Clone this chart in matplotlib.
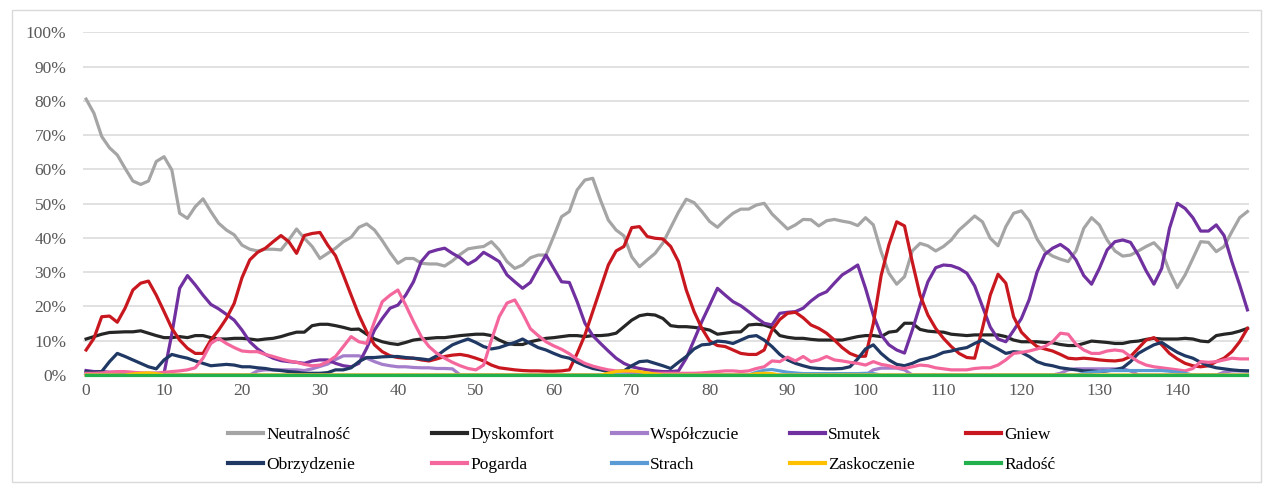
import matplotlib
matplotlib.use("Agg")
import matplotlib.pyplot as plt
from matplotlib.ticker import PercentFormatter, MultipleLocator
from matplotlib.lines import Line2D
from matplotlib.patches import Rectangle

# values in percent, frames 0..149
neutralnosc = [
    80.5, 76.4, 69.6, 66.3, 64.2, 60.3, 56.6, 55.6, 56.6, 62.3,
    63.7, 59.8, 47.2, 45.7, 49.1, 51.4, 47.7, 44.3, 42.3, 40.9,
    37.9, 36.7, 36.2, 36.7, 36.7, 36.5, 39.4, 42.6, 39.9, 37.5,
    34.0, 35.5, 37.0, 38.9, 40.2, 43.1, 44.1, 42.3, 39.2, 35.7,
    32.6, 34.0, 34.0, 32.6, 32.4, 32.4, 31.8, 33.3, 35.2, 36.8,
    37.2, 37.5, 38.9, 36.5, 33.1, 31.1, 32.1, 34.2, 35.0, 35.0,
    40.5, 46.2, 47.7, 54.0, 56.9, 57.4, 51.0, 45.2, 42.3, 40.6,
    34.5, 31.6, 33.6, 35.5, 38.5, 43.0, 47.5, 51.3, 50.3, 47.7,
    44.8, 43.1, 45.3, 47.2, 48.4, 48.4, 49.6, 50.1, 47.0, 44.8,
    42.6, 43.8, 45.4, 45.3, 43.5, 45.0, 45.4, 44.9, 44.5, 43.6,
    45.9, 43.8, 36.0, 29.7, 26.5, 28.7, 36.2, 38.4, 37.7, 36.2,
    37.5, 39.4, 42.3, 44.3, 46.4, 44.7, 39.9, 37.7, 43.3, 47.2,
    47.9, 45.0, 39.7, 36.2, 34.7, 33.8, 33.1, 36.2, 42.8, 45.9,
    43.8, 39.4, 36.2, 34.7, 35.0, 36.2, 37.5, 38.6, 36.2, 30.2,
    25.5, 29.2, 34.0, 38.9, 38.7, 36.0, 37.5, 41.8, 45.9, 47.7,
]
dyskomfort = [
    10.5, 11.2, 11.9, 12.4, 12.5, 12.6, 12.6, 12.9, 12.2, 11.5,
    10.9, 10.9, 11.2, 10.9, 11.5, 11.5, 10.9, 10.5, 10.5, 10.7,
    10.7, 10.5, 10.2, 10.5, 10.7, 11.2, 11.9, 12.5, 12.5, 14.4,
    14.8, 14.8, 14.4, 13.9, 13.3, 13.4, 11.9, 10.5, 9.7, 9.2,
    8.9, 9.5, 10.2, 10.5, 10.7, 10.9, 10.9, 11.2, 11.5, 11.7,
    11.9, 11.9, 11.5, 10.2, 9.2, 8.9, 8.9, 9.7, 10.2, 10.7,
    10.9, 11.2, 11.5, 11.5, 11.2, 11.5, 11.5, 11.7, 12.2, 14.1,
    16.0, 17.3, 17.7, 17.5, 16.5, 14.4, 14.1, 14.1, 13.9, 13.6,
    13.1, 11.9, 12.2, 12.5, 12.6, 14.6, 14.8, 14.6, 13.8, 11.5,
    11.0, 10.7, 10.7, 10.4, 10.2, 10.2, 10.2, 10.2, 10.7, 11.2,
    11.5, 11.5, 11.2, 12.5, 12.8, 15.1, 15.1, 13.3, 12.8, 12.6,
    12.5, 11.9, 11.7, 11.5, 11.7, 11.7, 11.7, 11.7, 11.2, 10.2,
    9.7, 9.7, 9.7, 9.5, 9.4, 8.9, 8.6, 8.6, 9.2, 9.9,
    9.7, 9.5, 9.2, 9.2, 9.7, 9.9, 10.4, 10.7, 10.5, 10.5,
    10.5, 10.7, 10.5, 9.9, 9.7, 11.5, 11.9, 12.2, 12.8, 13.6,
]
wspolczucie = [
    0.0, 0.0, 0.0, 0.0, 0.0, 0.0, 0.0, 0.0, 0.0, 0.0,
    0.0, 0.0, 0.0, 0.0, 0.0, 0.0, 0.0, 0.0, 0.0, 0.0,
    0.0, 0.0, 1.2, 1.5, 1.5, 1.5, 1.5, 1.5, 1.3, 1.8,
    2.5, 3.2, 4.5, 5.6, 5.6, 5.6, 4.9, 3.9, 3.1, 2.7,
    2.4, 2.4, 2.2, 2.1, 2.1, 1.9, 1.9, 1.8, 0.0, 0.0,
    0.0, 0.0, 0.0, 0.0, 0.0, 0.0, 0.0, 0.0, 0.0, 0.0,
    0.0, 0.0, 0.0, 0.0, 0.0, 0.0, 0.0, 0.0, 0.0, 0.0,
    0.0, 0.0, 0.0, 0.0, 0.0, 0.0, 0.0, 0.0, 0.0, 0.0,
    0.0, 0.0, 0.0, 0.0, 0.0, 0.0, 0.0, 0.0, 0.0, 0.0,
    0.0, 0.0, 0.0, 0.0, 0.0, 0.0, 0.0, 0.0, 0.0, 0.0,
    0.0, 1.5, 2.0, 2.0, 2.0, 1.5, 0.0, 0.0, 0.0, 0.0,
    0.0, 0.0, 0.0, 0.0, 0.0, 0.0, 0.0, 0.0, 0.0, 0.0,
    0.0, 0.0, 0.0, 0.0, 0.0, 0.5, 1.5, 1.8, 1.8, 1.8,
    1.8, 1.8, 1.8, 1.8, 1.2, 0.0, 0.0, 0.0, 0.0, 0.0,
    0.0, 0.0, 0.0, 0.0, 0.0, 0.0, 0.8, 1.2, 1.2, 1.2,
]
smutek = [
    1.3, 1.0, 1.0, 0.8, 0.8, 0.7, 0.6, 0.5, 0.5, 0.5,
    0.5, 12.0, 25.3, 29.0, 26.3, 23.3, 20.6, 19.3, 17.7, 16.0,
    13.1, 9.7, 7.6, 6.0, 4.9, 4.2, 3.9, 3.7, 3.4, 4.1,
    4.4, 4.4, 3.4, 2.7, 2.4, 3.4, 7.8, 13.1, 16.5, 19.5,
    20.4, 23.3, 27.2, 33.1, 35.8, 36.5, 37.0, 35.5, 34.2, 32.3,
    33.6, 35.8, 34.5, 33.1, 29.2, 27.2, 25.3, 27.0, 31.1, 35.0,
    31.1, 27.2, 27.0, 21.4, 15.1, 11.5, 9.2, 7.0, 4.9, 3.4,
    2.4, 1.9, 1.5, 1.2, 1.0, 1.0, 1.2, 4.9, 10.2, 15.6,
    20.4, 25.3, 23.3, 21.4, 20.2, 18.5, 16.7, 15.1, 14.6, 18.0,
    18.3, 18.5, 19.5, 21.6, 23.3, 24.3, 26.8, 29.2, 30.6, 32.1,
    25.3, 17.5, 11.7, 8.8, 7.3, 6.4, 13.1, 20.4, 27.2, 31.3,
    32.1, 31.9, 31.1, 29.7, 26.0, 20.0, 14.0, 10.5, 9.7, 13.0,
    16.5, 22.0, 30.0, 35.2, 37.0, 38.1, 36.5, 33.6, 29.0, 26.5,
    31.1, 36.5, 38.9, 39.4, 38.7, 35.0, 30.4, 26.5, 31.1, 42.8,
    50.1, 48.6, 45.9, 42.0, 42.0, 43.8, 40.7, 33.1, 26.3, 19.0,
]
gniew = [
    7.3, 10.7, 17.0, 17.2, 15.4, 19.5, 24.8, 26.8, 27.4, 23.3,
    18.5, 13.6, 10.2, 7.8, 6.3, 6.3, 10.2, 13.1, 16.5, 20.9,
    28.4, 33.6, 35.8, 37.0, 38.9, 40.7, 38.9, 35.5, 40.7, 41.3,
    41.6, 37.9, 34.8, 29.2, 23.3, 17.5, 12.6, 8.8, 6.8, 5.6,
    5.1, 4.9, 4.9, 4.4, 4.1, 4.7, 5.4, 5.8, 6.0, 5.6,
    4.9, 4.1, 2.9, 2.1, 1.8, 1.5, 1.3, 1.2, 1.2, 1.1,
    1.1, 1.2, 1.5, 6.3, 11.7, 18.5, 25.3, 32.1, 36.2, 37.5,
    43.0, 43.3, 40.4, 39.9, 39.7, 37.5, 33.1, 24.8, 18.5, 13.6,
    9.9, 8.6, 8.3, 7.3, 6.3, 6.0, 6.0, 7.3, 13.1, 16.2,
    18.0, 18.3, 16.7, 14.6, 13.6, 12.2, 10.2, 8.0, 6.3, 5.4,
    5.5, 15.0, 29.0, 38.0, 44.7, 43.5, 33.0, 23.3, 17.5, 13.6,
    10.7, 8.3, 6.3, 5.1, 4.9, 13.6, 23.3, 29.4, 26.8, 17.0,
    12.5, 10.2, 8.3, 7.6, 7.0, 6.0, 4.9, 4.7, 4.9, 4.7,
    4.4, 4.2, 4.1, 4.4, 5.4, 7.8, 10.2, 10.9, 8.8, 6.3,
    4.7, 3.4, 2.7, 2.4, 2.7, 3.9, 4.9, 6.8, 9.7, 13.6,
]
obrzydzenie = [
    1.0, 0.8, 1.0, 3.9, 6.3, 5.4, 4.4, 3.4, 2.4, 1.8,
    4.4, 6.0, 5.4, 4.9, 4.1, 3.4, 2.7, 2.9, 3.1, 2.9,
    2.4, 2.4, 2.1, 1.9, 1.5, 1.3, 1.0, 0.8, 0.5, 0.5,
    0.5, 0.7, 1.5, 1.5, 2.1, 3.9, 5.1, 5.1, 5.3, 5.4,
    5.4, 5.1, 4.9, 4.7, 4.4, 5.6, 7.3, 8.8, 9.7, 10.5,
    9.5, 8.3, 7.6, 8.0, 8.8, 9.5, 10.5, 9.2, 8.0, 7.3,
    6.3, 5.4, 4.9, 3.7, 2.7, 1.9, 1.5, 1.0, 1.0, 1.2,
    2.7, 3.9, 4.1, 3.4, 2.7, 1.9, 3.7, 5.4, 7.6, 8.8,
    9.0, 9.9, 9.7, 9.2, 10.2, 11.2, 11.5, 10.2, 8.3, 6.0,
    4.4, 3.4, 2.7, 2.1, 1.9, 1.8, 1.8, 1.9, 2.4, 4.7,
    7.6, 8.8, 6.3, 4.4, 3.1, 2.7, 3.4, 4.4, 4.9, 5.6,
    6.6, 7.0, 7.6, 8.0, 9.2, 10.2, 8.8, 7.6, 6.3, 6.8,
    6.6, 5.4, 3.9, 3.1, 2.7, 2.1, 1.8, 1.5, 1.2, 1.2,
    1.0, 1.2, 1.5, 2.1, 3.9, 6.3, 7.6, 8.8, 9.5, 8.0,
    6.6, 5.6, 4.9, 3.7, 2.7, 2.1, 1.8, 1.5, 1.3, 1.2,
]
pogarda = [
    0.5, 0.5, 0.6, 0.8, 1.0, 1.0, 0.8, 0.6, 0.5, 0.5,
    0.8, 1.0, 1.2, 1.5, 2.1, 4.9, 9.2, 10.7, 9.2, 8.0,
    7.0, 6.8, 6.8, 6.0, 5.4, 4.7, 4.1, 3.7, 3.1, 2.7,
    2.9, 3.9, 5.4, 8.3, 11.2, 9.7, 9.2, 15.6, 21.4, 23.3,
    24.8, 20.4, 15.6, 11.2, 8.3, 6.3, 4.9, 3.7, 2.7, 1.9,
    1.5, 2.9, 10.2, 17.0, 21.0, 21.9, 18.0, 13.5, 11.5, 9.7,
    8.5, 7.5, 6.2, 4.6, 3.4, 2.6, 2.0, 1.5, 1.2, 1.0,
    0.8, 0.6, 0.5, 0.5, 0.5, 0.5, 0.5, 0.5, 0.5, 0.6,
    0.8, 1.0, 1.2, 1.2, 1.0, 1.2, 1.9, 2.4, 4.1, 3.9,
    5.2, 4.1, 5.4, 3.9, 4.4, 5.4, 4.4, 4.1, 3.7, 3.4,
    2.9, 3.9, 3.1, 2.7, 2.1, 1.9, 2.4, 2.9, 2.7, 2.1,
    1.8, 1.5, 1.5, 1.5, 1.9, 2.1, 2.1, 2.9, 4.4, 6.3,
    6.6, 7.0, 7.6, 8.3, 9.7, 12.2, 11.9, 9.0, 7.3, 6.3,
    6.3, 7.0, 7.3, 7.0, 5.4, 3.9, 2.9, 2.4, 2.1, 1.8,
    1.5, 1.2, 1.9, 3.9, 3.7, 3.9, 4.4, 4.9, 4.7, 4.7,
]
strach = [
    0.0, 0.0, 0.0, 0.0, 0.0, 0.0, 0.0, 0.0, 0.0, 0.0,
    0.0, 0.0, 0.0, 0.0, 0.0, 0.0, 0.0, 0.0, 0.0, 0.0,
    0.0, 0.0, 0.0, 0.0, 0.0, 0.0, 0.0, 0.0, 0.0, 0.0,
    0.0, 0.0, 0.0, 0.0, 0.0, 0.0, 0.0, 0.0, 0.0, 0.0,
    0.0, 0.0, 0.0, 0.0, 0.0, 0.0, 0.0, 0.0, 0.0, 0.0,
    0.0, 0.0, 0.0, 0.0, 0.0, 0.0, 0.0, 0.0, 0.0, 0.0,
    0.0, 0.0, 0.0, 0.0, 0.0, 0.0, 0.0, 0.0, 0.0, 0.0,
    0.0, 0.0, 0.0, 0.0, 0.0, 0.0, 0.0, 0.0, 0.0, 0.0,
    0.0, 0.0, 0.0, 0.0, 0.0, 0.0, 0.8, 1.4, 1.6, 1.2,
    0.8, 0.6, 0.4, 0.4, 0.4, 0.4, 0.4, 0.4, 0.4, 0.4,
    0.5, 0.4, 0.0, 0.0, 0.0, 0.0, 0.0, 0.0, 0.0, 0.0,
    0.0, 0.0, 0.0, 0.0, 0.0, 0.0, 0.0, 0.0, 0.0, 0.0,
    0.0, 0.0, 0.0, 0.0, 0.0, 0.0, 0.0, 0.0, 0.5, 0.8,
    1.0, 1.3, 1.3, 1.3, 1.3, 1.3, 1.3, 1.3, 1.3, 1.1,
    0.8, 0.5, 0.0, 0.0, 0.0, 0.0, 0.0, 0.0, 0.0, 0.0,
]
zaskoczenie = [
    0.0, 0.0, 0.0, 0.0, 0.0, 0.0, 0.3, 0.5, 0.6, 0.4,
    0.0, 0.0, 0.0, 0.0, 0.0, 0.0, 0.0, 0.0, 0.0, 0.0,
    0.0, 0.0, 0.0, 0.0, 0.0, 0.0, 0.0, 0.0, 0.0, 0.0,
    0.0, 0.0, 0.0, 0.0, 0.0, 0.0, 0.0, 0.0, 0.0, 0.0,
    0.0, 0.0, 0.0, 0.0, 0.0, 0.0, 0.0, 0.0, 0.0, 0.0,
    0.0, 0.0, 0.0, 0.0, 0.0, 0.0, 0.0, 0.0, 0.0, 0.0,
    0.0, 0.0, 0.0, 0.0, 0.0, 0.0, 0.0, 0.5, 1.0, 1.2,
    1.2, 1.0, 0.6, 0.3, 0.0, 0.0, 0.0, 0.0, 0.0, 0.0,
    0.0, 0.0, 0.0, 0.0, 0.0, 0.0, 0.4, 0.5, 0.4, 0.0,
    0.0, 0.0, 0.0, 0.0, 0.0, 0.0, 0.0, 0.0, 0.0, 0.0,
    0.0, 0.0, 0.0, 0.0, 0.0, 0.0, 0.0, 0.0, 0.0, 0.0,
    0.0, 0.0, 0.0, 0.0, 0.0, 0.0, 0.0, 0.0, 0.0, 0.0,
    0.0, 0.0, 0.0, 0.0, 0.0, 0.0, 0.0, 0.0, 0.0, 0.0,
    0.0, 0.0, 0.0, 0.0, 0.0, 0.0, 0.0, 0.0, 0.0, 0.0,
    0.0, 0.0, 0.0, 0.0, 0.0, 0.0, 0.0, 0.0, 0.0, 0.0,
]
radosc = [
    0.0, 0.0, 0.0, 0.0, 0.0, 0.0, 0.0, 0.0, 0.0, 0.0,
    0.0, 0.0, 0.0, 0.0, 0.0, 0.0, 0.0, 0.0, 0.0, 0.0,
    0.0, 0.0, 0.0, 0.0, 0.0, 0.0, 0.0, 0.0, 0.0, 0.0,
    0.0, 0.0, 0.0, 0.0, 0.0, 0.0, 0.0, 0.0, 0.0, 0.0,
    0.0, 0.0, 0.0, 0.0, 0.0, 0.0, 0.0, 0.0, 0.0, 0.0,
    0.0, 0.0, 0.0, 0.0, 0.0, 0.0, 0.0, 0.0, 0.0, 0.0,
    0.0, 0.0, 0.0, 0.0, 0.0, 0.0, 0.0, 0.0, 0.0, 0.0,
    0.0, 0.0, 0.0, 0.0, 0.0, 0.0, 0.0, 0.0, 0.0, 0.0,
    0.0, 0.0, 0.0, 0.0, 0.0, 0.0, 0.0, 0.0, 0.0, 0.0,
    0.0, 0.0, 0.0, 0.0, 0.0, 0.0, 0.0, 0.0, 0.0, 0.0,
    0.0, 0.0, 0.0, 0.0, 0.0, 0.0, 0.0, 0.0, 0.0, 0.0,
    0.0, 0.0, 0.0, 0.0, 0.0, 0.0, 0.0, 0.0, 0.0, 0.0,
    0.0, 0.0, 0.0, 0.0, 0.0, 0.0, 0.0, 0.0, 0.0, 0.0,
    0.0, 0.0, 0.0, 0.0, 0.0, 0.0, 0.0, 0.0, 0.0, 0.0,
    0.0, 0.0, 0.0, 0.0, 0.0, 0.0, 0.0, 0.0, 0.0, 0.0,
]

labels = ["Neutralność", "Dyskomfort", "Współczucie", "Smutek", "Gniew",
          "Obrzydzenie", "Pogarda", "Strach", "Zaskoczenie", "Radość"]
series = [neutralnosc, dyskomfort, wspolczucie, smutek, gniew,
          obrzydzenie, pogarda, strach, zaskoczenie, radosc]
colors = ["#A5A5A5", "#262626", "#A47DCB", "#7030A0", "#C8171E",
          "#1F3864", "#F4679D", "#5B9BD5", "#FFC000", "#21B04B"]

plt.rcParams['font.family'] = ['Liberation Serif', 'DejaVu Serif']
W, H = 1268, 487
fig = plt.figure(figsize=(W / 100, H / 100), dpi=100)
ax = fig.add_axes([83 / W, 1 - 375 / H, (1249 - 83) / W, (375 - 32.3) / H])

frames = list(range(len(neutralnosc)))
for vals, col, lab in zip(series, colors, labels):
    ax.plot(frames, vals, color=col, lw=2.3, label=lab, solid_joinstyle='round', clip_on=False)

ax.set_xlim(-0.4, 149.2)
ax.set_ylim(0, 100)
ax.yaxis.set_major_locator(MultipleLocator(10))
ax.yaxis.set_major_formatter(PercentFormatter(100, decimals=0))
ax.set_xticks(range(0, 150, 10))
ax.grid(axis='y', color='#D9D9D9', lw=1.1)
ax.set_axisbelow(True)
for s in ax.spines.values():
    s.set_visible(False)
ax.tick_params(length=0, labelsize=12.5, labelcolor='#595959')
ax.tick_params(axis='y', pad=12)
ax.tick_params(axis='x', pad=6)

# legend: 5 columns, placed one column at a time
col_x = [228, 432, 612, 790, 966]
for j, x in enumerate(col_x):
    hs = [Line2D([], [], color=colors[j], lw=3), Line2D([], [], color=colors[j + 5], lw=3)]
    fig.legend(hs, [labels[j], labels[j + 5]], loc='center left',
               bbox_to_anchor=(x / W, 1 - 450 / H), frameon=False,
               fontsize=12.5, handlelength=2.0, handletextpad=0.2,
               labelspacing=0.75, borderpad=0, borderaxespad=0)

# light chart border
fig.patches.append(Rectangle((12 / W, 1 - 482 / H), (1261 - 12) / W, (482 - 10) / H,
                             transform=fig.transFigure, fill=False,
                             edgecolor='#D9D9D9', lw=1))

fig.savefig("out.png", dpi=100)
